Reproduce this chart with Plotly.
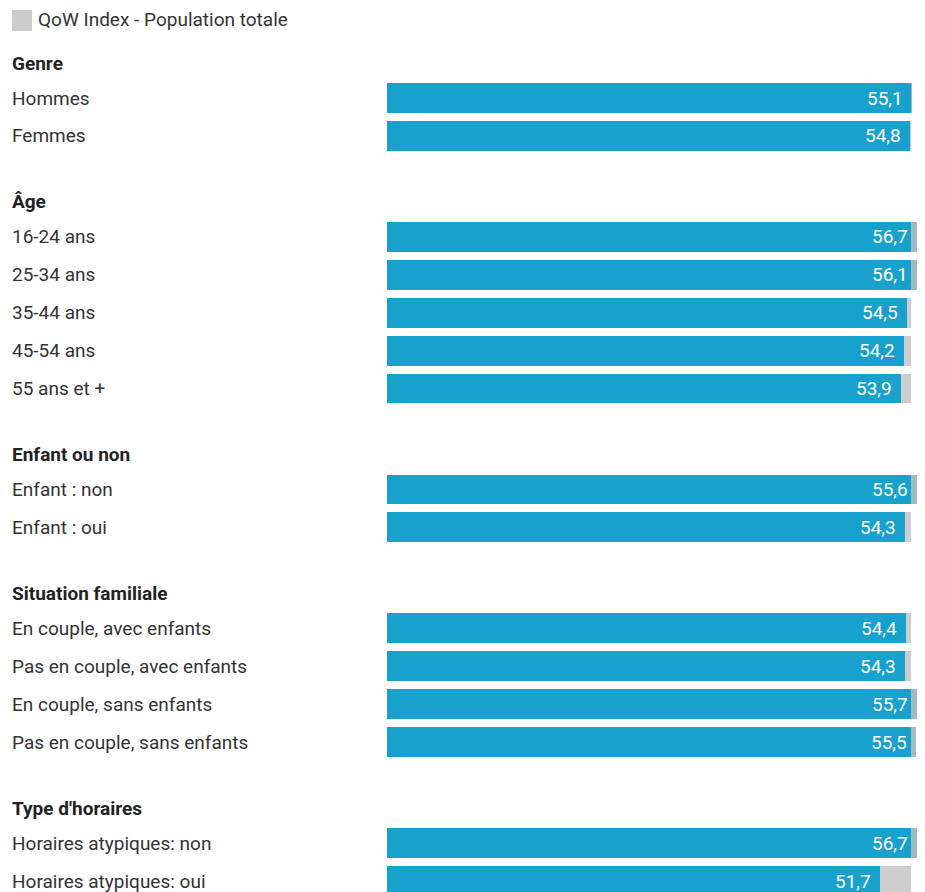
import plotly.graph_objects as go

# ---- data ----
groups = ["Genre", "Âge", "Enfant ou non", "Situation familiale", "Type d'horaires"]
labels = [
    ["Hommes", "Femmes"],
    ["16-24 ans", "25-34 ans", "35-44 ans", "45-54 ans", "55 ans et +"],
    ["Enfant : non", "Enfant : oui"],
    ["En couple, avec enfants", "Pas en couple, avec enfants",
     "En couple, sans enfants", "Pas en couple, sans enfants"],
    ["Horaires atypiques: non", "Horaires atypiques: oui"],
]
values = [
    [55.1, 54.8],
    [56.7, 56.1, 54.5, 54.2, 53.9],
    [55.6, 54.3],
    [54.4, 54.3, 55.7, 55.5],
    [56.7, 51.7],
]
total_population = 54.9
legend_name = "QoW Index - Population totale"

# ---- style ----
BLUE = "#19a1cd"
GREY = "rgba(194,194,194,0.8)"
FONT = "Roboto"
FS = 19
OFF = 8                      # default page body margin
W, H = 925 - 2 * OFF, 892 - OFF
ML = 387 - OFF
ROW_PX = 37.9
FIRST_ROW_PX = 98 - OFF
GROUP_GAP = 101 / ROW_PX     # last row -> first row of next group (units)
HEADER_OFF = 35 / ROW_PX     # header above first row (units)
PX_PER_UNIT = 9.536
plot_w = W - ML
XMAX = plot_w / PX_PER_UNIT

ys, names, vals, headers = [], [], [], []
y = 0.0
for gi, (g, labs, vs) in enumerate(zip(groups, labels, values)):
    if gi > 0:
        y += GROUP_GAP - 1
    headers.append((g, y - HEADER_OFF))
    for lab, v in zip(labs, vs):
        ys.append(y)
        names.append(lab)
        vals.append(v)
        y += 1

lo = [min(v, total_population) for v in vals]
diff = [abs(v - total_population) for v in vals]

fig = go.Figure()
fig.add_trace(go.Bar(
    y=ys, x=vals, orientation="h", marker=dict(color=BLUE, line=dict(width=0)),
    width=0.79, showlegend=False, hoverinfo="skip",
))
fig.add_trace(go.Bar(
    y=ys, x=diff, base=lo, orientation="h", marker=dict(color=GREY, line=dict(width=0)),
    width=0.79, name=legend_name, showlegend=False, hoverinfo="skip",
))

lx = 10 - OFF
xpad = -(ML - lx) / plot_w
ann = []
for yy, lab, v in zip(ys, names, vals):
    ann.append(dict(x=xpad, xref="paper", y=yy, yref="y", text=lab, showarrow=False,
                    xanchor="left", yanchor="middle",
                    font=dict(family=FONT, size=FS, color="#333333")))
    ann.append(dict(x=min(v, XMAX * 0.9999), xref="x", y=yy, yref="y",
                    text=f"{v:.1f}".replace(".", ","),
                    showarrow=False, xanchor="right", yanchor="middle", xshift=-7,
                    font=dict(family=FONT, size=FS, color="white")))
for g, yy in headers:
    ann.append(dict(x=xpad, xref="paper", y=yy, yref="y", text=f"<b>{g}</b>",
                    showarrow=False, xanchor="left", yanchor="middle",
                    font=dict(family=FONT, size=FS, color="#222222")))

# legend (manual)
ann.append(dict(x=xpad + 26 / plot_w, xref="paper", y=1 - (20 - OFF) / H, yref="paper",
                text=legend_name, showarrow=False, xanchor="left", yanchor="middle",
                font=dict(family=FONT, size=FS, color="#333333")))
shapes = [dict(type="rect", xref="paper", yref="paper",
               x0=-(ML - (12 - OFF)) / plot_w, x1=-(ML - (32 - OFF)) / plot_w,
               y0=1 - (31 - OFF) / H, y1=1 - (10 - OFF) / H,
               fillcolor="#cccccc", line=dict(width=0))]

top = -FIRST_ROW_PX / ROW_PX
bottom = (H - FIRST_ROW_PX) / ROW_PX
fig.update_layout(
    width=W, height=H, margin=dict(l=ML, r=0, t=0, b=0),
    barmode="overlay", bargap=0,
    plot_bgcolor="white", paper_bgcolor="white",
    xaxis=dict(range=[0, XMAX], visible=False, fixedrange=True),
    yaxis=dict(range=[bottom, top], visible=False, fixedrange=True),
    annotations=ann, shapes=shapes,
    font=dict(family=FONT),
)
fig.write_html("out.html")
